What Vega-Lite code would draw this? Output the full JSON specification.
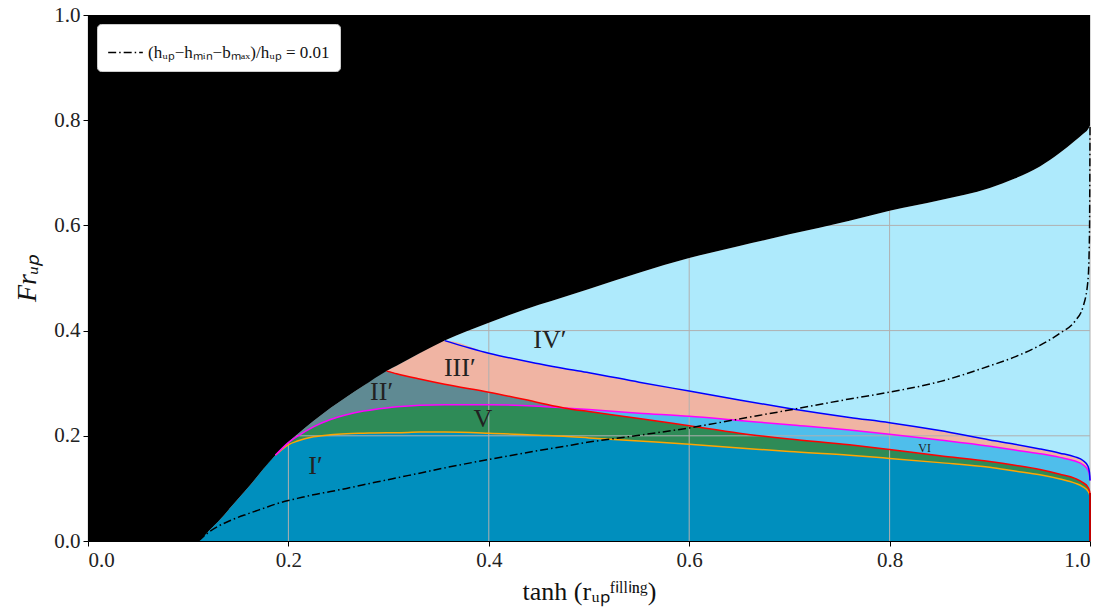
{
  "$schema": "https://vega.github.io/schema/vega-lite/v6.json",
  "autosize": {"type": "none"},
  "width": 1002,
  "height": 526,
  "padding": {"left": 88, "top": 15, "right": 26, "bottom": 71},
  "background": "white",
  "config": {
    "font": "Liberation Serif",
    "view": {"stroke": null},
    "axis": {"grid": false, "labelFont": "Liberation Serif", "labelFontSize": 21, "labelColor": "#222", "titleFont": "Liberation Serif", "titleColor": "#111", "titleFontWeight": "normal", "domainColor": "black", "tickColor": "black", "tickSize": 5, "domainWidth": 1.2},
    "mark": {"invalid": "filter"},
    "legend": {"orient": "top-left", "offset": 9, "fillColor": "white", "strokeColor": "#cccccc", "cornerRadius": 4, "padding": 10, "labelFont": "Liberation Serif", "labelFontSize": 17, "labelColor": "#111", "labelLimit": 0, "symbolType": "stroke", "symbolSize": 1200, "symbolStrokeWidth": 1.6}
  },
  "datasets": {
    "curves": [
      {"x": 0, "u": 0},
      {"x": 0.11, "u": 0, "d": 0, "lb": 0, "i": 0},
      {"x": 0.12, "u": 0.018, "d": 0.016, "lb": 0.018, "i": 0.018},
      {"x": 0.13, "u": 0.037, "d": 0.028, "lb": 0.037, "i": 0.037},
      {"x": 0.142, "u": 0.063, "d": 0.039, "lb": 0.063, "i": 0.063},
      {"x": 0.16, "u": 0.102, "d": 0.052, "lb": 0.102, "i": 0.102},
      {"x": 0.175, "u": 0.137, "d": 0.062, "lb": 0.137, "i": 0.137},
      {"x": 0.187, "u": 0.163, "o": 0.163, "m": 0.163, "d": 0.07, "lb": 0.163, "i": 0.163, "sl": 0.163, "g": 0.163},
      {"x": 0.2, "u": 0.188, "o": 0.183, "m": 0.187, "d": 0.077, "lb": 0.188, "i": 0.183, "sl": 0.188, "g": 0.187},
      {"x": 0.209, "u": 0.203, "o": 0.19, "m": 0.199, "d": 0.081, "lb": 0.203, "i": 0.19, "sl": 0.203, "g": 0.199},
      {"x": 0.225, "u": 0.228, "o": 0.198, "m": 0.217, "d": 0.088, "lb": 0.228, "i": 0.198, "sl": 0.228, "g": 0.217},
      {"x": 0.242, "u": 0.253, "o": 0.202, "m": 0.231, "d": 0.094, "lb": 0.253, "i": 0.202, "sl": 0.253, "g": 0.231},
      {"x": 0.258, "u": 0.274, "o": 0.204, "m": 0.24, "d": 0.1, "lb": 0.274, "i": 0.204, "sl": 0.274, "g": 0.24},
      {"x": 0.275, "u": 0.295, "o": 0.205, "m": 0.247, "d": 0.107, "lb": 0.295, "i": 0.205, "sl": 0.295, "g": 0.247},
      {"x": 0.298, "u": 0.323, "o": 0.206, "m": 0.253, "r": 0.323, "d": 0.116, "lb": 0.323, "i": 0.206, "sl": 0.323, "g": 0.253, "s": 0.323},
      {"x": 0.308, "u": 0.333, "o": 0.206, "m": 0.255, "r": 0.318, "d": 0.12, "lb": 0.333, "i": 0.206, "sl": 0.318, "g": 0.255, "s": 0.333},
      {"x": 0.331, "u": 0.357, "o": 0.207, "m": 0.258, "r": 0.308, "d": 0.129, "lb": 0.357, "i": 0.207, "sl": 0.308, "g": 0.258, "s": 0.357},
      {"x": 0.356, "u": 0.381, "o": 0.207, "m": 0.259, "r": 0.298, "b": 0.381, "d": 0.139, "lb": 0.381, "i": 0.207, "sl": 0.298, "g": 0.259, "s": 0.381},
      {"x": 0.4, "u": 0.415, "o": 0.205, "m": 0.259, "r": 0.283, "b": 0.357, "d": 0.155, "lb": 0.415, "i": 0.205, "sl": 0.283, "g": 0.259, "s": 0.357},
      {"x": 0.45, "u": 0.449, "o": 0.201, "m": 0.256, "r": 0.263, "b": 0.337, "d": 0.172, "lb": 0.449, "i": 0.201, "sl": 0.263, "g": 0.256, "s": 0.337},
      {"x": 0.475, "u": 0.464, "o": 0.199, "m": 0.253, "r": 0.253, "b": 0.328, "d": 0.18, "lb": 0.464, "i": 0.199, "sl": 0.253, "g": 0.253, "s": 0.328},
      {"x": 0.5, "u": 0.479, "o": 0.196, "m": 0.25, "r": 0.246, "b": 0.32, "d": 0.188, "lb": 0.479, "i": 0.196, "sl": 0.246, "g": 0.246, "s": 0.32},
      {"x": 0.55, "u": 0.51, "o": 0.19, "m": 0.243, "r": 0.233, "b": 0.302, "d": 0.201, "lb": 0.51, "i": 0.19, "sl": 0.233, "g": 0.233, "s": 0.302},
      {"x": 0.6, "u": 0.538, "o": 0.184, "m": 0.237, "r": 0.219, "b": 0.285, "d": 0.215, "lb": 0.538, "i": 0.184, "sl": 0.219, "g": 0.219, "s": 0.285},
      {"x": 0.65, "u": 0.561, "o": 0.177, "m": 0.229, "r": 0.205, "b": 0.268, "d": 0.232, "lb": 0.561, "i": 0.177, "sl": 0.205, "g": 0.205, "s": 0.268},
      {"x": 0.7, "u": 0.583, "o": 0.17, "m": 0.221, "r": 0.194, "b": 0.252, "d": 0.249, "lb": 0.583, "i": 0.17, "sl": 0.194, "g": 0.194, "s": 0.252},
      {"x": 0.76, "u": 0.609, "o": 0.163, "m": 0.211, "r": 0.183, "b": 0.235, "d": 0.27, "lb": 0.609, "i": 0.163, "sl": 0.183, "g": 0.183, "s": 0.235},
      {"x": 0.8, "u": 0.628, "o": 0.157, "m": 0.203, "r": 0.174, "b": 0.225, "d": 0.283, "lb": 0.628, "i": 0.157, "sl": 0.174, "g": 0.174, "s": 0.225},
      {"x": 0.85, "u": 0.648, "o": 0.149, "m": 0.192, "r": 0.162, "b": 0.21, "d": 0.303, "lb": 0.648, "i": 0.149, "sl": 0.162, "g": 0.162, "s": 0.21},
      {"x": 0.9, "u": 0.671, "o": 0.14, "m": 0.18, "r": 0.151, "b": 0.192, "d": 0.333, "lb": 0.671, "i": 0.14, "sl": 0.151, "g": 0.151, "s": 0.192},
      {"x": 0.925, "u": 0.689, "o": 0.133, "m": 0.173, "r": 0.144, "b": 0.184, "d": 0.35, "lb": 0.689, "i": 0.133, "sl": 0.144, "g": 0.144, "s": 0.184},
      {"x": 0.95, "u": 0.712, "o": 0.126, "m": 0.166, "r": 0.136, "b": 0.175, "d": 0.372, "lb": 0.712, "i": 0.126, "sl": 0.136, "g": 0.136, "s": 0.175},
      {"x": 0.97, "u": 0.738, "o": 0.118, "m": 0.159, "r": 0.127, "b": 0.167, "d": 0.395, "lb": 0.738, "i": 0.118, "sl": 0.127, "g": 0.127, "s": 0.167},
      {"x": 0.985, "u": 0.761, "o": 0.11, "m": 0.152, "r": 0.119, "b": 0.16, "d": 0.418, "lb": 0.761, "i": 0.11, "sl": 0.119, "g": 0.119, "s": 0.16},
      {"x": 0.993, "u": 0.774, "o": 0.103, "m": 0.145, "r": 0.111, "b": 0.153, "d": 0.445, "lb": 0.774, "i": 0.103, "sl": 0.111, "g": 0.111, "s": 0.153},
      {"x": 0.998, "u": 0.783, "o": 0.095, "m": 0.135, "r": 0.102, "b": 0.142, "d": 0.496, "lb": 0.783, "i": 0.095, "sl": 0.102, "g": 0.102, "s": 0.142},
      {"x": 0.9995, "u": 0.788, "o": 0.089, "m": 0.125, "r": 0.095, "b": 0.13, "d": 0.585, "lb": 0.788, "i": 0.089, "sl": 0.095, "g": 0.095, "s": 0.13},
      {"x": 1.0, "u": 0.79, "o": 0.085, "m": 0.115, "r": 0.09, "b": 0.115, "d": 0.79, "lb": 0.79, "i": 0.085, "sl": 0.09, "g": 0.09, "s": 0.115}
    ],
    "gridx": [{"v": 0.2}, {"v": 0.4}, {"v": 0.6}, {"v": 0.8}, {"v": 1.0}],
    "gridy": [{"v": 0.2}, {"v": 0.4}, {"v": 0.6}, {"v": 0.8}],
    "labels": [
      {"x": 0.227, "y": 0.143, "t": "I′"},
      {"x": 0.293, "y": 0.283, "t": "II′"},
      {"x": 0.371, "y": 0.329, "t": "III′"},
      {"x": 0.461, "y": 0.382, "t": "IV′"},
      {"x": 0.394, "y": 0.232, "t": "V"}
    ],
    "small": [{"x": 0.835, "y": 0.177, "t": "VI"}]
  },
  "layer": [
    {
      "data": {"name": "curves"},
      "mark": {"type": "area", "color": "#aeeafc", "opacity": 1, "interpolate": "monotone"},
      "encoding": {
        "x": {"field": "x", "type": "quantitative", "scale": {"domain": [0, 1], "nice": false, "zero": false}, "axis": {"title": "tanh (rᵤₚᶠⁱˡˡⁱⁿᵍ)", "titleFont": "Liberation Serif", "titleFontSize": 26, "titlePadding": 8, "values": [0, 0.2, 0.4, 0.6, 0.8, 1.0], "format": ".1f", "labelPadding": 3, "labelFont": "Liberation Serif", "labelFontSize": 21}},
        "y": {"field": "lb", "type": "quantitative", "scale": {"domain": [0, 1], "nice": false}, "axis": {"title": "Frᵤₚ", "titleFont": "Liberation Serif", "titleFontSize": 28, "titleFontStyle": "italic", "titlePadding": 12, "values": [0, 0.2, 0.4, 0.6, 0.8, 1.0], "format": ".1f", "labelPadding": 3, "labelFont": "Liberation Serif", "labelFontSize": 21}}
      }
    },
    {
      "data": {"name": "curves"},
      "mark": {"type": "area", "color": "#f0b4a3", "opacity": 1, "interpolate": "monotone"},
      "encoding": {"x": {"field": "x", "type": "quantitative"}, "y": {"field": "s", "type": "quantitative"}}
    },
    {
      "data": {"name": "curves"},
      "mark": {"type": "area", "color": "#5f8a93", "opacity": 1, "interpolate": "monotone"},
      "encoding": {"x": {"field": "x", "type": "quantitative"}, "y": {"field": "sl", "type": "quantitative"}}
    },
    {
      "data": {"name": "curves"},
      "mark": {"type": "area", "color": "#4fbeeb", "opacity": 1, "interpolate": "monotone"},
      "encoding": {"x": {"field": "x", "type": "quantitative"}, "y": {"field": "m", "type": "quantitative"}}
    },
    {
      "data": {"name": "curves"},
      "mark": {"type": "area", "color": "#2e8b57", "opacity": 1, "interpolate": "monotone"},
      "encoding": {"x": {"field": "x", "type": "quantitative"}, "y": {"field": "g", "type": "quantitative"}}
    },
    {
      "data": {"name": "curves"},
      "mark": {"type": "area", "color": "#008fbe", "opacity": 1, "interpolate": "monotone"},
      "encoding": {"x": {"field": "x", "type": "quantitative"}, "y": {"field": "i", "type": "quantitative"}}
    },
    {
      "data": {"name": "gridx"},
      "mark": {"type": "rule", "color": "#b0b0b0", "strokeWidth": 1},
      "encoding": {"x": {"field": "v", "type": "quantitative"}}
    },
    {
      "data": {"name": "gridy"},
      "mark": {"type": "rule", "color": "#b0b0b0", "strokeWidth": 1},
      "encoding": {"y": {"field": "v", "type": "quantitative"}}
    },
    {
      "data": {"name": "curves"},
      "mark": {"type": "area", "color": "black", "opacity": 1, "interpolate": "monotone"},
      "encoding": {"x": {"field": "x", "type": "quantitative"}, "y": {"field": "u", "type": "quantitative"}, "y2": {"datum": 1}}
    },
    {
      "data": {"name": "curves"},
      "mark": {"type": "line", "color": "#ffa500", "strokeWidth": 1.5, "interpolate": "monotone"},
      "encoding": {"x": {"field": "x", "type": "quantitative"}, "y": {"field": "o", "type": "quantitative"}}
    },
    {
      "data": {"name": "curves"},
      "mark": {"type": "line", "color": "#ff00ff", "strokeWidth": 1.5, "interpolate": "monotone"},
      "encoding": {"x": {"field": "x", "type": "quantitative"}, "y": {"field": "m", "type": "quantitative"}}
    },
    {
      "data": {"name": "curves"},
      "mark": {"type": "line", "color": "#ff0000", "strokeWidth": 1.5, "interpolate": "monotone"},
      "encoding": {"x": {"field": "x", "type": "quantitative"}, "y": {"field": "r", "type": "quantitative"}}
    },
    {
      "data": {"name": "curves"},
      "mark": {"type": "rule", "color": "#c00000", "strokeWidth": 1.5},
      "encoding": {"x": {"datum": 1}, "y": {"datum": 0}, "y2": {"datum": 0.09}}
    },
    {
      "data": {"name": "curves"},
      "mark": {"type": "line", "color": "#0000ff", "strokeWidth": 1.5, "interpolate": "monotone"},
      "encoding": {"x": {"field": "x", "type": "quantitative"}, "y": {"field": "b", "type": "quantitative"}}
    },
    {
      "data": {"name": "curves"},
      "mark": {"type": "line", "color": "black", "strokeWidth": 1.5, "interpolate": "monotone"},
      "encoding": {
        "x": {"field": "x", "type": "quantitative"},
        "y": {"field": "d", "type": "quantitative"},
        "strokeDash": {"datum": "(hᵤₚ−hₘᵢₙ−bₘₐₓ)/hᵤₚ = 0.01", "scale": {"range": [[8, 3, 1.5, 3]]}, "legend": {"title": null, "labelFont": "Liberation Serif", "labelFontSize": 17}}
      }
    },
    {
      "data": {"name": "labels"},
      "mark": {"type": "text", "font": "Liberation Serif", "fontSize": 26, "color": "#222222", "align": "center", "baseline": "middle"},
      "encoding": {"x": {"field": "x", "type": "quantitative"}, "y": {"field": "y", "type": "quantitative"}, "text": {"field": "t"}}
    },
    {
      "data": {"name": "small"},
      "mark": {"type": "text", "font": "Liberation Serif", "fontSize": 12, "color": "#222222", "align": "center", "baseline": "middle"},
      "encoding": {"x": {"field": "x", "type": "quantitative"}, "y": {"field": "y", "type": "quantitative"}, "text": {"field": "t"}}
    }
  ]
}
